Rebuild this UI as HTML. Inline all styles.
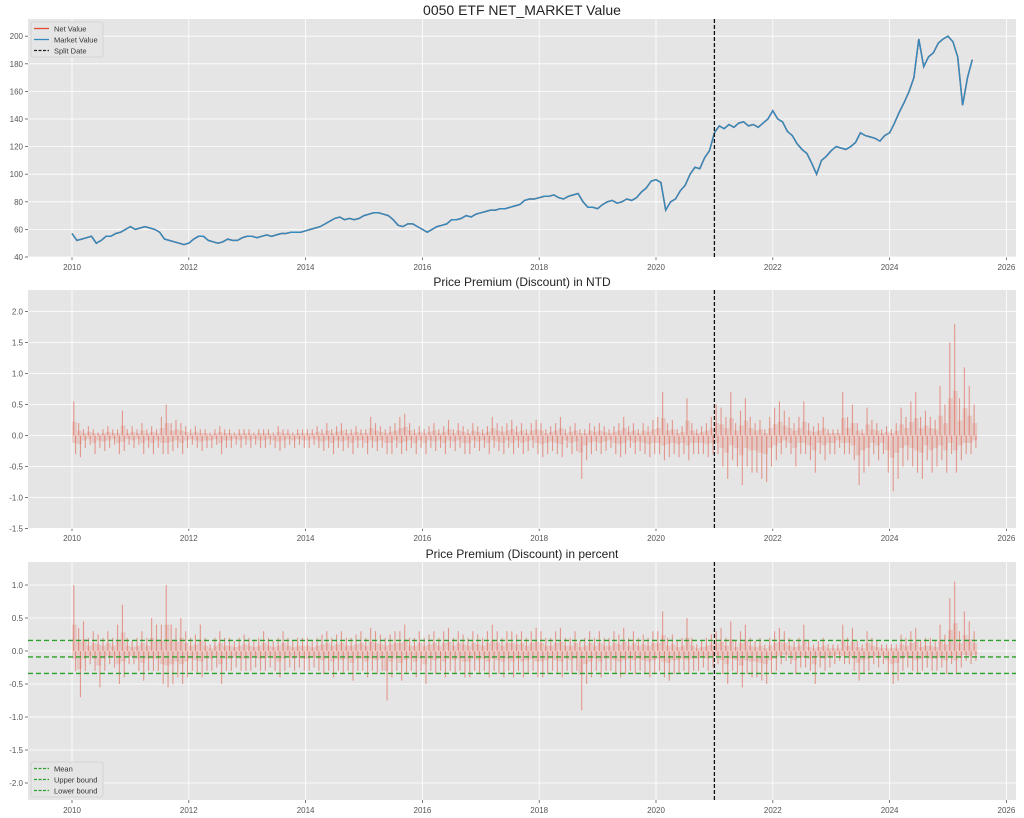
<!DOCTYPE html>
<html><head><meta charset="utf-8"><style>
body{margin:0;background:#fff;}
svg{display:block;font-family:"Liberation Sans","DejaVu Sans",sans-serif;}
</style></head><body>
<svg id="chart" width="1024" height="818" viewBox="0 0 1024 818"></svg>
<script>
const years=[2010,2012,2014,2016,2018,2020,2022,2024,2026];
const priceTicks=[40,60,80,100,120,140,160,180,200];
const ntdTicks=[-1.5,-1.0,-0.5,0.0,0.5,1.0,1.5,2.0];
const pctTicks=[-2.0,-1.5,-1.0,-0.5,0.0,0.5,1.0];
const splitYear=2021.0;
const pctMean=-0.09, pctUpper=0.16, pctLower=-0.34;
const price=[57,52,53,54,55,50,52,55,55,57,58,60,
62,60,61,62,61,60,58,53,52,51,50,49,
50,53,55,55,52,51,50,51,53,52,52,54,
55,55,54,55,56,55,56,57,57,58,58,58,
59,60,61,62,64,66,68,69,67,68,67,68,
70,71,72,72,71,70,67,63,62,64,64,62,
60,58,60,62,63,64,67,67,68,70,69,71,
72,73,74,74,75,75,76,77,78,81,82,82,
83,84,84,85,83,82,84,85,86,80,76,76,
75,78,80,81,79,80,82,81,83,87,90,95,
96,94,74,80,82,88,92,100,105,104,112,117,
130,135,133,136,134,137,138,135,136,134,137,140,
146,140,138,131,128,122,118,115,108,100,110,113,
117,120,119,118,120,123,130,128,127,126,124,128,
130,137,145,152,160,170,198,178,185,188,195,198,
200,196,185,150,170,183];
const ntdMax=[.55,.2,.1,.15,.1,.05,.1,.15,.1,.1,.4,.1,
.15,.1,.2,.1,.15,.1,.3,.5,.2,.25,.2,.15,
.1,.15,.1,.1,.05,.1,.15,.1,.1,.05,.1,.1,
.1,.05,.1,.1,.1,.05,.15,.1,.1,.05,.1,.1,
.1,.1,.15,.1,.2,.1,.15,.2,.1,.1,.15,.1,
.1,.3,.2,.15,.1,.15,.2,.3,.35,.2,.1,.15,
.1,.15,.2,.1,.15,.25,.1,.2,.15,.1,.2,.15,
.1,.15,.3,.2,.15,.2,.25,.15,.2,.1,.2,.25,
.2,.1,.15,.2,.3,.1,.15,.2,.1,.1,.2,.15,
.2,.15,.1,.15,.2,.3,.15,.2,.1,.2,.15,.25,
.3,.7,.2,.25,.1,.15,.6,.2,.1,.15,.2,.3,
.5,.45,.3,.7,.2,.4,.6,.3,.2,.25,.1,.3,
.45,.55,.4,.3,.2,.3,.55,.2,.15,.2,.3,.1,
.1,.1,.7,.3,.5,.2,.1,.45,.25,.2,.1,.15,
.1,.2,.45,.3,.55,.7,.3,.4,.3,.25,.8,.5,
1.5,1.8,.6,1.1,.8,.5];
const ntdMin=[-.3,-.35,-.2,-.15,-.3,-.2,-.25,-.2,-.15,-.3,-.25,-.15,
-.2,-.15,-.3,-.2,-.3,-.2,-.3,-.3,-.25,-.2,-.3,-.2,
-.15,-.2,-.25,-.2,-.2,-.15,-.3,-.2,-.2,-.15,-.2,-.15,
-.2,-.15,-.2,-.2,-.15,-.2,-.25,-.2,-.15,-.2,-.15,-.2,
-.2,-.15,-.2,-.25,-.2,-.3,-.2,-.25,-.2,-.3,-.2,-.2,
-.3,-.2,-.25,-.2,-.3,-.3,-.2,-.3,-.25,-.2,-.3,-.2,
-.3,-.2,-.25,-.2,-.3,-.2,-.25,-.2,-.3,-.3,-.2,-.25,
-.2,-.3,-.2,-.25,-.3,-.2,-.3,-.2,-.3,-.25,-.2,-.3,
-.35,-.3,-.25,-.3,-.35,-.2,-.3,-.25,-.7,-.4,-.3,-.25,
-.3,-.25,-.2,-.3,-.35,-.3,-.2,-.3,-.25,-.3,-.35,-.3,
-.3,-.4,-.35,-.3,-.35,-.3,-.4,-.3,-.3,-.3,-.35,-.3,
-.3,-.5,-.7,-.4,-.5,-.8,-.5,-.6,-.6,-.7,-.75,-.5,
-.4,-.3,-.2,-.3,-.5,-.3,-.3,-.4,-.6,-.3,-.4,-.3,
-.3,-.2,-.3,-.3,-.4,-.8,-.6,-.5,-.3,-.4,-.3,-.6,
-.9,-.7,-.5,-.4,-.5,-.6,-.7,-.4,-.6,-.5,-.4,-.6,
-.3,-.6,-.4,-.3,-.3,-.2];
const pctMax=[1.0,.35,.45,.2,.3,.25,.2,.3,.2,.4,.7,.2,
.15,.2,.3,.2,.5,.4,.4,1.0,.4,.35,.5,.3,
.2,.25,.4,.2,.1,.2,.3,.2,.2,.15,.2,.25,
.2,.15,.2,.3,.2,.15,.2,.3,.2,.15,.2,.2,
.2,.15,.2,.25,.3,.2,.25,.3,.2,.2,.25,.3,
.2,.35,.3,.25,.2,.25,.3,.3,.4,.2,.2,.3,
.2,.25,.3,.2,.3,.35,.2,.3,.25,.2,.3,.25,
.2,.3,.4,.3,.2,.3,.3,.25,.3,.2,.3,.35,
.3,.2,.2,.3,.35,.2,.2,.3,.15,.2,.3,.2,
.3,.2,.2,.3,.25,.35,.2,.3,.2,.25,.2,.3,
.3,.6,.2,.25,.15,.2,.5,.2,.1,.15,.2,.25,
.3,.35,.2,.45,.15,.3,.4,.2,.15,.2,.1,.2,
.3,.35,.3,.2,.15,.2,.4,.15,.1,.15,.2,.1,
.1,.1,.4,.2,.35,.15,.1,.3,.2,.15,.1,.1,
.1,.1,.25,.2,.3,.35,.15,.2,.2,.15,.4,.25,
.8,1.05,.3,.6,.45,.3];
const pctMin=[-.3,-.7,-.3,-.2,-.3,-.55,-.3,-.2,-.25,-.5,-.4,-.2,
-.2,-.3,-.45,-.3,-.3,-.3,-.5,-.55,-.5,-.4,-.5,-.4,
-.3,-.35,-.4,-.3,-.3,-.25,-.5,-.3,-.3,-.25,-.3,-.3,
-.3,-.25,-.3,-.3,-.25,-.3,-.4,-.3,-.25,-.3,-.25,-.3,
-.3,-.25,-.3,-.35,-.3,-.4,-.3,-.35,-.3,-.45,-.3,-.3,
-.4,-.3,-.35,-.3,-.75,-.4,-.3,-.45,-.35,-.3,-.4,-.3,
-.5,-.3,-.35,-.3,-.4,-.3,-.35,-.3,-.4,-.4,-.3,-.35,
-.3,-.4,-.3,-.35,-.4,-.3,-.4,-.3,-.4,-.35,-.3,-.4,
-.4,-.35,-.3,-.35,-.4,-.3,-.35,-.3,-.9,-.5,-.4,-.3,
-.4,-.3,-.3,-.35,-.4,-.35,-.3,-.35,-.3,-.35,-.4,-.35,
-.3,-.4,-.45,-.35,-.35,-.3,-.35,-.3,-.3,-.25,-.3,-.25,
-.2,-.35,-.5,-.3,-.35,-.55,-.35,-.4,-.4,-.45,-.5,-.35,
-.3,-.2,-.15,-.2,-.35,-.25,-.25,-.3,-.5,-.25,-.3,-.25,
-.2,-.15,-.2,-.2,-.3,-.45,-.35,-.3,-.2,-.25,-.2,-.35,
-.5,-.45,-.3,-.25,-.3,-.35,-.3,-.25,-.3,-.3,-.25,-.35,
-.2,-.35,-.25,-.15,-.2,-.15];

const svg=document.getElementById('chart');
const NS='http://www.w3.org/2000/svg';
function mk(tag,attrs,parent){const e=document.createElementNS(NS,tag);for(const k in attrs)e.setAttribute(k,attrs[k]);(parent||svg).appendChild(e);return e;}
const X0=28,X1=1016;
function xs(yr){return 72+(yr-2010)*58.4;}
function monthYear(i){return 2010+(i+0.5)/12;}

function panel(name,top,bottom,yScale,ticks,fmt,title,titleSize){
  const g=mk('g',{});
  
  
  const bg=mk('rect',{x:X0,y:top,width:X1-X0,height:bottom-top,fill:'#e5e5e5'},g);
  
  
  years.forEach(yr=>{
    const x=xs(yr);
    mk('line',{x1:x,x2:x,y1:top,y2:bottom,stroke:'#fff','stroke-width':0.8},g);
    mk('line',{x1:x,x2:x,y1:bottom,y2:bottom+3,stroke:'#555','stroke-width':0.8},g);
    const t=mk('text',{x:x,y:bottom+13,'font-size':8,fill:'#555','text-anchor':'middle'},g);
    t.textContent=yr;
    
    
  });
  ticks.forEach(v=>{
    const y=yScale(v);
    mk('line',{x1:X0,x2:X1,y1:y,y2:y,stroke:'#fff','stroke-width':0.8},g);
    mk('line',{x1:X0-3,x2:X0,y1:y,y2:y,stroke:'#555','stroke-width':0.8},g);
    const t=mk('text',{x:X0-5,y:y+3,'font-size':8,fill:'#555','text-anchor':'end'},g);
    t.textContent=fmt(v);
    
    
  });
  const tt=mk('text',{x:(X0+X1)/2,y:top-4,'font-size':titleSize,fill:'#222','text-anchor':'middle'},g);
  tt.textContent=title;
  
  
  return g;
}

const yP=v=>257-(v-40)*1.38;
const g1=panel('price-panel',19,257,yP,priceTicks,v=>v,'0050 ETF NET_MARKET Value',14);
const pts=price.map((v,i)=>xs(2010+i/12).toFixed(1)+','+yP(v).toFixed(1)).join(' ');
const netLine=mk('polyline',{points:pts,fill:'none',stroke:'#e24a33','stroke-width':1.5},g1);


const mktLine=mk('polyline',{points:pts,fill:'none',stroke:'#348abd','stroke-width':1.5},g1);



const yN=v=>435.5-v*62;
const g2=panel('ntd-panel',290,528,yN,ntdTicks,v=>v.toFixed(1),'Price Premium (Discount) in NTD',12);
const yC=v=>651-v*66;
const g3=panel('percent-panel',562,800,yC,pctTicks,v=>v.toFixed(1),'Price Premium (Discount) in percent',12);

function bars(g,maxA,minA,ys,nm){
  maxA.forEach((v,i)=>{
    const x=xs(monthYear(i));
    const band=mk('rect',{x:x-2.4,y:ys(v*0.4),width:4.8,height:ys(minA[i]*0.4)-ys(v*0.4),fill:'#e24a33',opacity:0.18},g);
    
    
    const b=mk('rect',{x:x-1.2,y:ys(v),width:1.1,height:ys(0)-ys(v),fill:'#e24a33',opacity:0.5},g);
    
    
  });
  minA.forEach((v,i)=>{
    const x=xs(monthYear(i));
    const b=mk('rect',{x:x+0.6,y:ys(0),width:1.1,height:ys(v)-ys(0),fill:'#e24a33',opacity:0.5},g);
    
    
  });
}
bars(g2,ntdMax,ntdMin,yN,'ntd');
bars(g3,pctMax,pctMin,yC,'pct');

[[pctMean,'mean-line'],[pctUpper,'upper-bound-line'],[pctLower,'lower-bound-line']].forEach(([v,n])=>{
  const l=mk('line',{x1:X0,x2:X1,y1:yC(v),y2:yC(v),stroke:'#2ca02c','stroke-width':1.3,'stroke-dasharray':'5,3'},g3);
  
  
});

[[g1,19,257],[g2,290,528],[g3,562,800]].forEach(([g,t,b])=>{
  const l=mk('line',{x1:xs(splitYear),x2:xs(splitYear),y1:t,y2:b,stroke:'#111','stroke-width':1.3,'stroke-dasharray':'4,2'},g);
  
  
});

function legend(name,x,y,w,items){
  const g=mk('g',{});
  
  
  mk('rect',{x:x,y:y,width:w,height:items.length*11+2,fill:'#e5e5e5',stroke:'#d0d0d0','stroke-width':0.8,rx:2},g);
  items.forEach((it,i)=>{
    const yy=y+6.5+i*11;
    mk('line',{x1:x+3,x2:x+18,y1:yy,y2:yy,stroke:it[1],'stroke-width':1.3,'stroke-dasharray':it[2]?'3,1.5':'none'},g);
    const t=mk('text',{x:x+23,y:yy+2.8,'font-size':7.5,fill:'#333'},g);
    t.textContent=it[0];
    
    
  });
}
legend('price-legend',31,22,72,[['Net Value','#e24a33',0],['Market Value','#348abd',0],['Split Date','#222',1]]);
legend('percent-legend',31,762,72,[['Mean','#2ca02c',1],['Upper bound','#2ca02c',1],['Lower bound','#2ca02c',1]]);
</script>
</body></html>
